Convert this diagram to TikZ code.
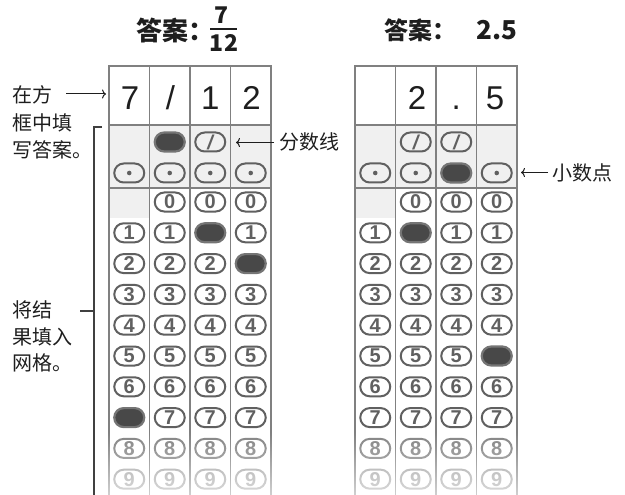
\documentclass[tikz,border=0pt]{standalone}
\usepackage{fontspec}
\setmainfont{Liberation Sans}
\newfontfamily\cjk{Noto Sans CJK SC}
\usetikzlibrary{shapes.misc,arrows.meta,fadings}
\definecolor{gridc}{HTML}{808080}
\definecolor{bubc}{HTML}{606060}
\definecolor{fillc}{HTML}{484848}
\definecolor{bordc}{HTML}{757575}
\definecolor{greyc}{HTML}{F0F0F0}
\definecolor{inkc}{HTML}{1E1E1E}
\definecolor{row8c}{HTML}{828282}
\definecolor{row9c}{HTML}{9C9C9C}
\def\markfilled#1{\expandafter\def\csname fillX#1\endcsname{}}
\markfilled{L-3-1}\markfilled{L-4-2}\markfilled{L-1-7}
\markfilled{R-3-d}\markfilled{R-2-1}\markfilled{R-4-5}
\begin{document}
\begin{tikzpicture}[x=1pt,y=-1pt,
  gridline/.style={draw=gridc,line width=1.8pt,line cap=rect},
  bub/.style={rounded rectangle,draw=bubc,line width=2pt,minimum width=30pt,minimum height=19pt,inner sep=0pt,text=bubc,font=\fontsize{20}{20}\selectfont\bfseries},
  filledbub/.style={bub,fill=fillc,draw=bordc,line width=2.2pt},
  bigdigit/.style={anchor=base,font=\fontsize{33}{33}\selectfont,text=inkc,inner sep=0pt},
  titlefont/.style={font=\cjk\bfseries\fontsize{#1}{#1}\selectfont,text=inkc,inner sep=0pt},
  cjklabel/.style={font=\cjk\fontsize{20}{20}\selectfont,text=inkc,inner sep=0pt,anchor=west},
  pointer/.style={draw=inkc,line width=1pt,-{To[length=4pt,width=9pt]}},
  bracket/.style={draw=inkc!85,line width=1.3pt},
]
\useasboundingbox (0,0) rectangle (625,495);

% titles
\node[titlefont=26,anchor=west] (T1) at (136,31) {答案：};
\node[titlefont=23] (T1num) at (222,15) {7};
\node[titlefont=23] (T1den) at (224,43) {12};
\coordinate (barL) at (210,29);
\coordinate (barR) at (237,29);
\draw[inkc,line width=2.5pt] (barL) -- (barR);
\node[titlefont=24,anchor=west] (T2) at (384,30) {答案：};
\node[titlefont=26,anchor=west] (T2num) at (476,30) {2.5};

% grey areas and grid lines
\foreach \g/\xo in {L/109,R/355}{
  \fill[greyc] (\xo,125) rectangle (\xo+162,188);
  \fill[greyc] (\xo,188) rectangle (\xo+40.5,218);
  \draw[gridline] (\xo,65.7) -- (\xo+162,65.7);
  \draw[gridline] (\xo,125) -- (\xo+162,125);
  \draw[gridline] (\xo,188) -- (\xo+162,188);
  \foreach \c in {0,...,4} \draw[gridline] (\xo+40.5*\c,65.7) -- (\xo+40.5*\c,500);
}

% top row entries
\node[bigdigit] (L-top-1) at (130,110) {7};
\node[bigdigit] (L-top-2) at (170.5,110) {/};
\node[bigdigit] (L-top-3) at (210.25,110) {1};
\node[bigdigit] (L-top-4) at (251.5,110) {2};
\node[bigdigit] (R-top-2) at (417,110) {2};
\node[bigdigit] (R-top-3) at (456.25,110) {.};
\node[bigdigit] (R-top-4) at (495,110) {5};

% fraction-bar row
\node[filledbub] (L-2-s) at (169.75,142) {};
\node[bub] (L-3-s) at (210.25,142) {\itshape/};
\node[bub] (R-2-s) at (415.75,142) {\itshape/};
\node[bub] (R-3-s) at (456.25,142) {\itshape/};

% decimal point row and digit rows
\foreach \g/\xo in {L/109,R/355}{
 \foreach \c in {1,...,4}{
  \pgfmathsetmacro\cx{\xo+40.5*\c-20.25}
  \ifcsname fillX\g-\c-d\endcsname
    \node[filledbub] (\g-\c-d) at (\cx,173) {};
  \else
    \node[bub] (\g-\c-d) at (\cx,173) {};
    \fill[bubc] (\g-\c-d.center) circle (2.3pt);
  \fi
  \foreach \r in {0,...,9}{
   \ifnum\numexpr\c*10+\r\relax=10 \else
    \pgfmathsetmacro\cy{202+30.8*\r}
    \ifnum\r=8 \def\rc{row8c}\else\ifnum\r=9 \def\rc{row9c}\else\def\rc{bubc}\fi\fi
    \ifcsname fillX\g-\c-\r\endcsname
      \node[filledbub] (\g-\c-\r) at (\cx,\cy) {};
    \else
      \node[bub,draw=\rc,text=\rc] (\g-\c-\r) at (\cx,\cy) {\r};
    \fi
   \fi
  }
 }
}

% fade at the bottom
\fill[white,path fading=north] (104,432) rectangle (522,532);

% left labels and bracket
\node[cjklabel] (t1) at (12,95) {在方};
\node[cjklabel] (t2) at (12,123) {框中填};
\node[cjklabel] (t3) at (12,150) {写答案。};
\node[cjklabel] (t4) at (12,310) {将结};
\node[cjklabel] (t5) at (12,337) {果填入};
\node[cjklabel] (t6) at (12,363) {网格。};
\coordinate (a1) at (66,94);
\coordinate (a1h) at (106,94);
\draw[pointer] (a1) -- (a1h);
\coordinate (brtop) at (102,127);
\coordinate (brcorner) at (94,127);
\coordinate (brbot) at (94,500);
\draw[bracket] (brtop) -- (brcorner) -- (brbot);
\coordinate (tickL) at (80,311);
\coordinate (tickR) at (94,311);
\draw[bracket] (tickL) -- (tickR);

% right-hand pointers
\node[cjklabel] (t7) at (279,142) {分数线};
\coordinate (a2) at (274,142.5);
\coordinate (a2h) at (236,142.5);
\draw[pointer] (a2) -- (a2h);
\node[cjklabel] (t8) at (552,173) {小数点};
\coordinate (a3) at (548,172.5);
\coordinate (a3h) at (521,172.5);
\draw[pointer] (a3) -- (a3h);
\end{tikzpicture}
\end{document}
